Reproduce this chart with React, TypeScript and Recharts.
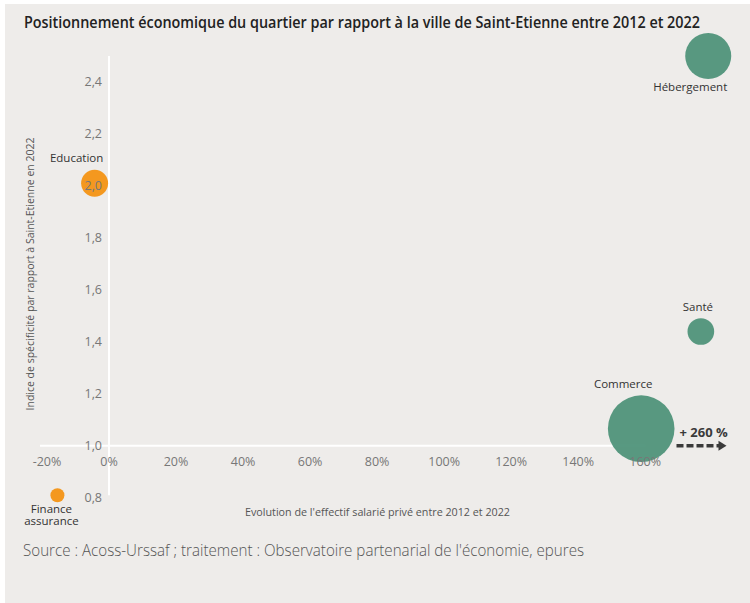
import { ScatterChart, Scatter, XAxis, YAxis, ZAxis, ReferenceLine, ReferenceDot } from 'recharts';

const categories = ['Hébergement', 'Santé', 'Commerce', 'Education', 'Finance assurance'];
const evolution = [178.8, 176.6, 158.8, -4.3, -15.4]; // % 2012-2022 (Commerce drawn capped)
const specificity = [2.5, 1.44, 1.066, 2.01, 0.81];
const effectif = [530, 178, 1110, 182, 49];
const commerceRealEvolution = 260;
const xTicks = [-20, 0, 20, 40, 60, 80, 100, 120, 140, 160];
const yTicks = [0.8, 1.0, 1.2, 1.4, 1.6, 1.8, 2.0, 2.2, 2.4];

const GREEN = '#4f947a';
const ORANGE = '#f39314';
const FONT = '"Open Sans", "DejaVu Sans", sans-serif';

const points = categories.map((name, i) => ({ name, x: evolution[i], y: specificity[i], z: effectif[i] }));
const growing = points.filter(p => p.x >= 0);
const shrinking = points.filter(p => p.x < 0);

// where each bubble's name sits
const labelPos: Record<string, { dx: number; side: 'above' | 'below'; gap: number }> = {
  'Hébergement': { dx: -18, side: 'below', gap: 12 },
  'Santé': { dx: -3, side: 'above', gap: 7 },
  'Commerce': { dx: -18, side: 'above', gap: 7 },
  'Education': { dx: -18, side: 'above', gap: 8 },
  'Finance assurance': { dx: -6, side: 'below', gap: 11 },
};

const fmtY = (v: number) => v.toFixed(1).replace('.', ',');

function Bubble(props: any) {
  const { cx, cy, size, fill, payload } = props;
  const r = props.width ? props.width / 2 : Math.sqrt(size / Math.PI);
  const pos = labelPos[payload.name];
  const lines = payload.name === 'Finance assurance' ? ['Finance', 'assurance'] : [payload.name];
  const y0 = pos.side === 'above' ? cy - r - pos.gap : cy + r + pos.gap;
  const ax = cx + r;
  return (
    <g>
      <circle cx={cx} cy={cy} r={r} fill={fill} fillOpacity={0.95} />
      <text x={cx + pos.dx} y={y0} textAnchor="middle" fontSize={11.5} fill="#333" fontFamily={FONT}>
        {lines.map((l, i) => <tspan key={l} x={cx + pos.dx} dy={i ? 11.5 : 0}>{l}</tspan>)}
      </text>
      {payload.name === 'Commerce' && (
        <g>
          <text x={ax + 5} y={cy + 8} fontSize={13} fontWeight={700} fill="#3a3a3a" fontFamily={FONT}>+ {commerceRealEvolution} %</text>
          <line x1={ax + 2} y1={cy + 17} x2={ax + 45} y2={cy + 17} stroke="#3a3a3a" strokeWidth={3.5} strokeDasharray="7 3" />
          <path d={`M${ax + 44},${cy + 12} L${ax + 52},${cy + 17} L${ax + 44},${cy + 22} Z`} fill="#3a3a3a" />
        </g>
      )}
    </g>
  );
}

export default function App() {
  return (
    <div style={{ position: 'absolute', left: 0, top: 0, width: 750, height: 603, background: '#fff' }}>
      <div style={{ position: 'absolute', left: 5, top: 4, width: 745, height: 599, background: '#eeecea' }} />
      <div style={{ position: 'absolute', left: 0, top: 0 }}>
        <ScatterChart width={750} height={603} margin={{ top: 30, right: 21, bottom: 100, left: 42 }}>
          <XAxis type="number" dataKey="x" domain={[-20, 185]} hide />
          <YAxis type="number" dataKey="y" domain={[0.78, 2.6]} hide />
          <ZAxis type="number" dataKey="z" domain={[0, 1110]} range={[0, Math.PI * 33.3 * 33.3]} />
          <ReferenceLine segment={[{ x: 0, y: 0.81 }, { x: 0, y: 2.5 }]} stroke="#fff" strokeWidth={2} ifOverflow="visible" />
          <ReferenceLine segment={[{ x: -20.6, y: 1 }, { x: 160, y: 1 }]} stroke="#fff" strokeWidth={2} ifOverflow="visible" />
          {xTicks.map(t => (
            <ReferenceDot key={'x' + t} x={t} y={1} r={0} fill="none" stroke="none" ifOverflow="visible"
              label={{ value: `${t}%`, position: 'bottom', offset: 11, dx: t < 0 ? 5 : 0, fill: '#777', fontSize: 12.5, fontFamily: FONT }} />
          ))}
          {yTicks.map(t => (
            <ReferenceDot key={'y' + t} x={0} y={t} r={0} fill="none" stroke="none" ifOverflow="visible"
              label={{ value: fmtY(t), position: 'left', offset: 7, fill: '#777', fontSize: 12.5, fontFamily: FONT }} />
          ))}
          <Scatter data={growing} fill={GREEN} shape={Bubble} isAnimationActive={false} />
          <Scatter data={shrinking} fill={ORANGE} shape={Bubble} isAnimationActive={false} />
        </ScatterChart>
      </div>
      <svg width={750} height={603} style={{ position: 'absolute', left: 0, top: 0, pointerEvents: 'none' }}>
        <text x={24} y={28} fontSize={16} fontWeight={600} fill="#222" fontFamily={FONT} textLength={676} lengthAdjust="spacingAndGlyphs">
          Positionnement économique du quartier par rapport à la ville de Saint-Etienne entre 2012 et 2022
        </text>
        <text x={377.5} y={516} textAnchor="middle" fontSize={11} fill="#555" fontFamily={FONT} textLength={265} lengthAdjust="spacingAndGlyphs">
          Evolution de l'effectif salarié privé entre 2012 et 2022
        </text>
        <text transform="translate(34,274) rotate(-90)" textAnchor="middle" fontSize={11} fill="#555" fontFamily={FONT} textLength={273} lengthAdjust="spacingAndGlyphs">
          Indice de spécificité par rapport à Saint-Etienne en 2022
        </text>
        <text x={23} y={556} fontSize={17} fontWeight={300} fill="#555" fontFamily={FONT} textLength={561} lengthAdjust="spacingAndGlyphs">
          Source : Acoss-Urssaf ; traitement : Observatoire partenarial de l'économie, epures
        </text>
      </svg>
    </div>
  );
}
